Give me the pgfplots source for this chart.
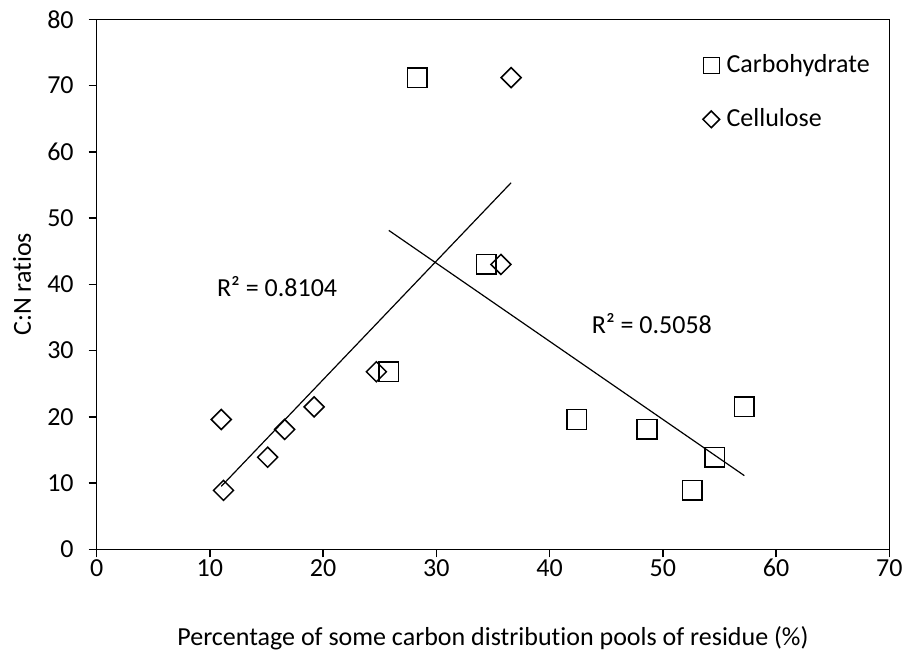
\documentclass[border=0pt]{standalone}
\usepackage{fontspec}
\setmainfont{Carlito}[Ligatures=NoCommon]
\usepackage{pgfplots}
\usepackage{pgfplotstable}
\pgfplotsset{compat=1.18}

% C:N ratio against the share of each carbon pool in the residue
\pgfplotstableread{
x    y
25.8 26.8
28.3 71.2
34.4 43.0
42.4 19.6
48.6 18.1
52.6  8.9
54.6 13.9
57.2 21.5
}\carbtab

\pgfplotstableread{
x    y
11.0 19.6
11.2  8.9
15.1 13.9
16.6 18.1
19.2 21.5
24.7 26.8
35.7 43.0
36.6 71.2
}\celltab

\begin{document}
\begin{tikzpicture}[font=\fontsize{13}{15.6}\selectfont]
\begin{axis}[
  at={(0pt,0pt)}, anchor=south west,
  scale only axis,
  width=396.3pt, height=265pt,
  xmin=0, xmax=70, ymin=0, ymax=80,
  xtick distance=10, ytick distance=10,
  tick align=outside, xtick pos=left, ytick pos=left,
  major tick length=4pt,
  axis line style={line width=0.75pt},
  tick style={line width=0.75pt, black},
  /pgf/number format/assume math mode=true,
  xticklabel style={yshift=2.5pt},
  yticklabel style={xshift=-4pt},
  xlabel={Percentage of some carbon distribution pools of residue (\%)},
  ylabel={C:N ratios},
  xlabel style={at={(axis description cs:0.5,-0.168)}, anchor=center, inner sep=0pt},
  ylabel style={at={(axis description cs:-0.0942,0.5)}, anchor=center, inner sep=0pt},
  legend style={draw=none, fill=none, at={(axis cs:53.54,74.65)}, anchor=north west,
    inner sep=0pt, outer sep=0pt, row sep=16.5pt, column sep=3.5pt,
    nodes={inner sep=0pt}},
  legend cell align=left,
]
\addplot[only marks, mark=square, mark size=4.9pt, mark options={line width=0.75pt},
  legend image code/.code={\draw[line width=0.75pt] plot[mark=square, mark size=4pt] coordinates {(0pt,0pt)};}]
  table[x=x, y=y] {\carbtab};
\addlegendentry{Carbohydrate}
\addplot[only marks, mark=square, mark size=3.54pt, mark options={rotate=45, line width=0.75pt},
  legend image code/.code={\draw[line width=0.75pt] plot[mark=square, mark size=2.95pt, mark options={rotate=45}] coordinates {(0pt,0pt)};}]
  table[x=x, y=y] {\celltab};
\addlegendentry{Cellulose}

% least-squares trend lines
\addplot[no marks, line width=0.6pt, forget plot]
  table[x=x, y={create col/linear regression={y=y}}] {\celltab};
\addplot[no marks, line width=0.6pt, forget plot]
  table[x=x, y={create col/linear regression={y=y}}] {\carbtab};

\node[anchor=base west, inner sep=0pt] at (axis cs:10.6,38.13) {R² = 0.8104};
\node[anchor=base west, inner sep=0pt] at (axis cs:43.7,32.6) {R² = 0.5058};
\end{axis}
\pgfresetboundingbox
\path[use as bounding box] (-48.35pt,-52.85pt) rectangle (404.15pt,274.65pt);
\end{tikzpicture}
\end{document}
